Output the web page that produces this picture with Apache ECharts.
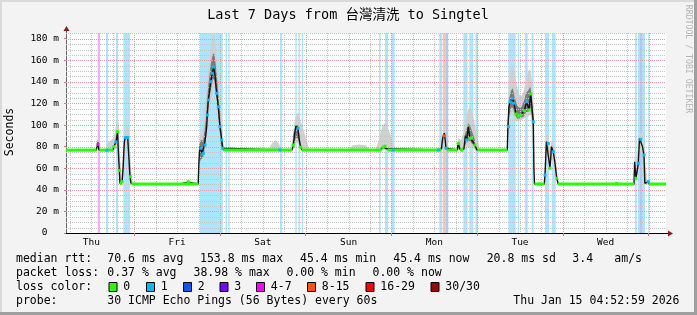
<!DOCTYPE html>
<html><head><meta charset="utf-8">
<script src="https://cdn.jsdelivr.net/npm/echarts@6/dist/echarts.min.js"></script>
<style>html,body{margin:0;padding:0;background:#f3f3f3}#c{width:697px;height:315px}</style>
</head><body><div id="c"></div>
<script>
// ---- axis / tick data (hours since Thu 00:00) ----
const timeRange = [4.883, 172.883];
const dayLabels = ['Thu','Fri','Sat','Sun','Mon','Tue','Wed'];
const dayNoons = [12,36,60,84,108,132,156];
const midnights = [24,48,72,96,120,144,168];
const minorVGrid = [6,12,18,30,36,42,54,60,66,78,84,90,102,108,114,126,132,138,150,156,162];
const yMax = 185.3;
const yTicks = [0,20,40,60,80,100,120,140,160,180];
const yMinor = [5,10,15,25,30,35,45,50,55,65,70,75,85,90,95,105,110,115,125,130,135,145,150,155,165,170,175,185];

// ---- loss colours ----
const lossLabels = ['0','1','2','3','4-7','8-15','16-29','30/30'];
const lossColors = ['#26ff00','#00b8ff','#0059ff','#7e00ff','#ff00ff','#ff5500','#ff0000','#a10000'];
const bandColors = ['#ffffff','#aae7ff','#aacaff','#d4aaff','#ffaaff','#ffc6aa','#ffaaaa','#e0aaaa'];

// ---- loss background bands: [startHour, endHour, lossLevel] ----
const lossBands = [
 [13.76,14.40,4],[16.08,16.64,1],[18.88,19.44,1],[20.93,22.80,1],
 [42.40,48.76,1],[49.54,49.96,1],[50.33,50.72,1],
 [64.80,65.44,1],[69.09,69.48,1],[69.98,70.40,1],[70.88,71.30,1],
 [92.52,92.97,1],[94.20,95.04,1],[96.00,96.90,1],
 [109.38,110.16,1],[110.36,111.28,5],[111.28,111.92,2],
 [116.13,117.30,1],[117.81,118.93,1],[119.54,120.19,1],
 [128.73,130.80,1],[131.36,131.78,1],[133.35,134.19,1],[135.26,135.82,1],
 [139.00,140.20,1],[140.88,142.00,1],
 [164.20,164.68,1],[164.98,165.60,1],[165.60,166.36,2],[166.36,167.00,1],[167.93,168.21,1]
];

// ---- median rtt (ms): [hour, value] ----
const median = [
 [4.88,76.8],[13.3,76.8],[13.6,80],[13.84,84],[14.1,77],[14.4,76.8],
 [18.0,76.8],[18.3,80],[18.88,84.3],[19.3,93.9],[19.55,75],[19.81,58],[20.0,46],[20.6,47],
 [20.9,62],[21.2,84],[21.49,88.5],[21.9,89.5],[22.16,88.5],[22.45,72],[22.8,52],[23.1,46],[23.4,45.4],
 [36.8,45.4],[37.5,46],[39.12,47],[39.5,45.4],[41.9,45.4],
 [42.1,66],[42.35,80],[42.6,78.5],[43.0,74],[43.33,73.8],[43.61,81.5],[44.0,90],[44.28,98.5],[44.45,109.3],
 [44.73,123.2],[45.1,132],[45.4,140.2],[45.85,148],[46.24,153.8],[46.6,146],[47.08,129.4],[47.53,117],
 [48.0,98.5],[48.48,86.2],[48.76,78.5],[49.0,76.9],
 [64.8,76.9],[68.16,77],[68.53,81.5],[68.9,92],[69.28,99],[69.6,100],[69.84,97],[70.12,88],[70.6,79.4],[71.0,77],[71.24,76.9],
 [90.0,76.9],[92.8,76.9],[93.3,78],[93.64,79.5],[94.2,80.5],[94.68,78],[95.0,76.9],
 [109.13,76.9],[110.0,78],[110.36,88],[110.81,92.5],[111.1,85],[111.28,78.5],[111.6,76.9],
 [114.45,77],[114.73,84],[115.1,78],[115.68,77],[116.3,78],[116.7,90],[117.08,86.2],[117.5,98],[118.0,88],
 [118.2,87.7],[118.7,85],[119.4,81.5],[119.9,77],[120.33,76.9],
 [128.45,76.9],[128.6,97],[128.73,98.5],[128.9,117],[129.2,121.6],[129.85,124.8],[130.32,120.2],[130.88,110.2],
 [131.52,108.4],[132.2,109.3],[132.76,110.9],[133.2,113.3],[133.88,121.6],[134.52,114],[134.99,128.8],
 [135.4,115],[135.72,103],[135.9,60],[136.06,45.4],
 [138.8,45.4],[139.0,53.7],[139.4,84.6],[139.93,83],[140.4,60],[140.82,80],[141.32,75.3],[141.8,65],[142.28,50.7],[142.72,45.4],
 [163.92,45.4],[164.1,66],[164.48,50.7],[165.13,64.6],[165.46,87.7],[165.8,86.8],[166.3,80],[166.72,72.3],
 [166.95,46],[167.93,47.5],[168.2,45.4],[172.88,45.4]
];

// ---- flat zero-loss median runs: [startHour, value, endHour] ----
const greenRuns = [
 [4.88,76.8,13.45],[14.25,76.8,18.1],[20.0,46,20.5],[23.2,45.4,41.95],[48.85,76.9,68.2],
 [70.9,76.9,93.3],[94.9,76.9,110.0],[111.5,76.9,114.45],[115.4,77,116.1],[120.1,76.9,128.45],
 [136.06,45.4,138.85],[142.6,45.4,163.95],[168.1,45.4,172.88]
];

// ---- median points coloured by loss: [hour, value, lossLevel] ----
const lossDots = [
 [13.84,82,4],[16.36,76.8,1],[18.3,80,0],[18.88,84.3,1],[19.3,93.9,0],[19.81,58,0],[20.6,47.5,0],
 [21.49,88.5,1],[22.16,88.5,1],[22.9,52,0],[39.12,47.5,0],
 [42.6,78.5,1],[43.33,73.8,1],[43.8,81.5,1],[44.45,109.3,1],[44.73,123.2,1],[45.4,140.2,1],[45.85,148,1],
 [46.24,153.8,1],[47.08,129.4,1],[47.53,117,1],[48.0,98.5,1],[48.48,86.2,1],[48.76,78.5,1],
 [64.8,76.9,1],[68.53,81.5,0],[69.84,97,1],[70.6,79.4,0],
 [93.64,79.5,0],[94.2,80.5,0],[96.5,76.9,1],
 [109.13,76.9,1],[110.81,90,5],[111.28,78.5,1],
 [114.73,83,0],[115.68,77,0],[117.08,86.2,1],[118.0,87.7,0],[118.4,88,0],[119.4,81.5,0],
 [128.73,98.5,1],[129.2,121.6,1],[129.85,124.8,1],[130.32,120.2,1],[130.88,110.2,0],[131.52,108.4,0],
 [132.2,109.3,0],[133.2,113.3,0],[133.88,121.6,1],[134.52,114,0],[134.99,128.8,0],[135.72,103,1],
 [137.4,45.4,0],[139.0,53.7,1],[139.93,83,1],[140.4,60,0],[141.32,75.3,1],[142.28,50.7,0],
 [159.08,46,0],[164.48,50.7,0],[165.13,64.6,1],[165.8,86.8,1],[166.72,72.3,1],[167.93,47.5,1]
];

// ---- smoke (ping spread): regions of [hour, low, high] ----
const smokeOuter = [
 [[13.3,76,77],[13.6,76,86],[13.9,76,88],[14.2,76,80],[14.5,76,77]],
 [[16.0,76,77],[16.5,76,84],[17.5,76,86],[18.2,76,88],[18.9,78,100],[19.3,80,106],[19.7,56,100],[20.0,45,70],
  [20.5,45,52],[21.0,55,85],[21.5,80,97],[22.0,84,100],[22.4,70,96],[22.8,50,80],[23.2,45,55],[23.6,45,46]],
 [[41.9,45,46],[42.1,60,75],[42.4,66,90],[43.3,70,98],[44.0,80,125],[44.7,100,150],[45.4,120,172],[46.0,135,183],
  [46.4,138,184],[46.8,130,172],[47.3,115,155],[47.8,96,130],[48.3,82,104],[48.8,76,86],[49.3,76,78]],
 [[61.5,76,77],[62.5,76,83],[63.5,76,86],[64.5,76,83],[65.2,76,77]],
 [[67.5,76,77],[68.2,76,84],[68.6,78,96],[69.0,80,105],[69.5,84,110],[70.0,82,112],[70.5,78,104],[71.2,76,98],
  [72.0,76,88],[72.8,76,80],[73.3,76,77]],
 [[84.0,76,77],[85.0,76,81],[87.0,76,82],[89.0,76,81],[90.0,76,77]],
 [[91.5,76,77],[92.3,76,84],[93.0,76,94],[93.8,77,101],[94.5,77,102],[95.2,76,96],[96.0,76,88],[96.8,76,80],[97.3,76,77]],
 [[109.5,76,77],[110.2,77,90],[110.8,78,96],[111.3,77,88],[111.8,76,77]],
 [[114.2,76,77],[114.7,77,88],[115.5,76,86],[116.3,77,95],[117.0,78,108],[117.6,80,115],[118.2,80,117],
  [118.8,79,110],[119.4,77,100],[120.1,76,86],[120.8,76,78]],
 [[128.45,76,80],[128.6,80,100],[128.9,98,140],[129.3,110,152],[129.9,112,155],[130.5,105,148],[131.2,103,135],
  [131.8,104,128],[132.5,105,127],[133.1,106,132],[133.7,108,143],[134.3,108,150],[134.9,110,152],[135.4,100,140],
  [135.8,70,110],[136.1,45,50]],
 [[138.8,45,46],[139.0,50,60],[139.4,70,91],[139.9,72,90],[140.4,56,78],[140.8,68,85],[141.3,66,84],[141.8,55,76],
  [142.3,48,60],[142.7,45,46]],
 [[163.9,45,46],[164.1,55,70],[164.5,48,66],[165.1,58,80],[165.5,75,92],[165.9,76,94],[166.4,70,88],[166.8,60,80],
  [167.1,45,65],[167.5,45,50],[168.0,45,48]]
];
const smokeInner = [
 [[42.2,64,82],[42.6,68,86],[43.3,70,86],[44.0,86,104],[44.7,116,136],[45.4,132,156],[46.0,143,166],[46.4,142,166],
  [46.8,132,156],[47.3,118,138],[47.8,98,118],[48.3,82,97],[48.8,76,82]],
 [[68.6,80,92],[69.2,88,100],[69.8,88,100],[70.4,79,88]],
 [[116.5,80,90],[117.0,84,96],[117.6,86,102],[118.2,84,98],[118.8,82,92],[119.4,79,86]],
 [[128.6,88,104],[129.0,108,125],[129.5,116,132],[130.0,116,134],[130.5,110,126],[131.2,106,118],[131.8,106,116],
  [132.5,107,117],[133.1,108,122],[133.7,112,130],[134.3,112,132],[134.9,116,136],[135.4,106,124],[135.8,90,106]]
];

// ---- texts ----
const titleText = 'Last 7 Days from 台灣清洗 to Singtel';
const yAxisTitle = 'Seconds';
const watermark = 'RRDTOOL / TOBI OETIKER';
const legendRows = [
 [['median rtt:',16],['70.6 ms avg',107.3],['153.8 ms max',200],['45.4 ms min',300],['45.4 ms now',393.3],['20.8 ms sd',486.7],['3.4',572.3],['am/s',614.3]],
 [['packet loss:',16],['0.37 % avg',107.3],['38.98 % max',193.5],['0.00 % min',286.4],['0.00 % now',372.5]],
 [['loss color:',16]],
 [['probe:',16],['30 ICMP Echo Pings (56 Bytes) every 60s',107.3],['Thu Jan 15 04:52:59 2026',513.3]]
];
const legendRowY = [259.5,273.5,287,301];
const lossBoxX = [108.5,146,183,219.5,256,307,365.5,430.5];

const MONO = '"DejaVu Sans Mono", monospace';
const minorC = '#c4c4c4', majorC = '#e79a9a';

const graphic = [];
graphic.push({type:'rect', shape:{x:0,y:0,width:697,height:2}, style:{fill:'#dadada'}, z:100});
graphic.push({type:'rect', shape:{x:0,y:0,width:2,height:315}, style:{fill:'#dadada'}, z:100});
graphic.push({type:'rect', shape:{x:694,y:0,width:3,height:315}, style:{fill:'#9f9f9f'}, z:100});
graphic.push({type:'rect', shape:{x:0,y:312,width:697,height:3}, style:{fill:'#9f9f9f'}, z:100});
graphic.push({type:'text', x:348, y:15, style:{text:titleText, fill:'#000', font:'13.5px "DejaVu Sans Mono", "Noto Sans CJK TC", monospace', align:'center', verticalAlign:'middle'}});
graphic.push({type:'text', x:10, y:132, rotation:Math.PI/2, style:{text:yAxisTitle, fill:'#000', font:'11.5px '+MONO, align:'center', verticalAlign:'middle'}});
graphic.push({type:'text', x:688, y:59, rotation:-Math.PI/2, style:{text:watermark, fill:'#b4b4b4', font:'8.2px '+MONO, align:'center', verticalAlign:'middle'}});
legendRows.forEach((row, r) => row.forEach(([t, x]) => {
  graphic.push({type:'text', x:x, y:legendRowY[r], style:{text:t, fill:'#000', font:'11.5px '+MONO, align:'left', verticalAlign:'middle'}});
}));
lossLabels.forEach((lab, i) => {
  graphic.push({type:'rect', shape:{x:lossBoxX[i]+0.5, y:282.5, width:8, height:9}, style:{fill:lossColors[i], stroke:'#000', lineWidth:1}});
  graphic.push({type:'text', x:lossBoxX[i]+14.8, y:legendRowY[2], style:{text:lab, fill:'#000', font:'11.5px '+MONO, align:'left', verticalAlign:'middle'}});
});

const vGrid = minorVGrid.map(h => [h, 0, 0]).concat(midnights.map(h => [h, 0, 1]));
const hGrid = yMinor.map(v => [timeRange[0], v, 0]).concat(yTicks.filter(v => v > 0).map(v => [timeRange[0], v, 1]));

function smokeSeries(regions, color, z) {
  return {
    type:'custom', silent:true, z:z, clip:true,
    data: regions.map((r, i) => [r[0][0], r[0][1], i]),
    renderItem(params, api) {
      const r = regions[api.value(2)];
      const pts = [];
      r.forEach(p => pts.push(api.coord([p[0], p[2]])));
      for (let k = r.length - 1; k >= 0; k--) pts.push(api.coord([r[k][0], r[k][1]]));
      return {type:'polygon', shape:{points:pts}, style:{fill:color}};
    }
  };
}

const option = {
  animation:false,
  backgroundColor:'#f3f3f3',
  grid:{left:66, top:33, width:600, height:200, show:true, backgroundColor:'#ffffff', borderWidth:0, outerBoundsMode:'none'},
  xAxis:{
    type:'value', min:timeRange[0], max:timeRange[1],
    axisLine:{show:true, onZero:false, lineStyle:{color:'#000', width:1}},
    axisTick:{show:true, customValues:midnights, length:3, lineStyle:{color:'#e07070'}},
    axisLabel:{show:true, customValues:dayNoons, formatter:v => dayLabels[dayNoons.indexOf(v)], fontFamily:MONO, fontSize:9.5, color:'#000', margin:5},
    splitLine:{show:false}
  },
  yAxis:{
    type:'value', min:0, max:yMax,
    axisLine:{show:true, onZero:false, lineStyle:{color:'#6a6a6a', width:1}},
    axisTick:{show:true, customValues:yTicks, length:2, lineStyle:{color:'#e07070'}},
    axisLabel:{show:true, customValues:yTicks, formatter:v => v === 0 ? '0  ' : v + ' m', fontFamily:MONO, fontSize:9.5, color:'#000', margin:7},
    splitLine:{show:false}
  },
  series:[
    { type:'custom', silent:true, z:1,
      data: lossBands.map(b => [b[0], 0, b[1], b[2]]),
      renderItem(params, api) {
        const cs = params.coordSys;
        const x0 = api.coord([api.value(0), 0])[0], x1 = api.coord([api.value(2), 0])[0];
        return {type:'rect', shape:{x:x0, y:cs.y, width:Math.max(1, x1 - x0), height:cs.height}, style:{fill:bandColors[api.value(3)]}};
      }
    },
    smokeSeries(smokeOuter, '#d0d0d0', 2),
    smokeSeries(smokeInner, '#7a7a7a', 3),
    { type:'custom', silent:true, z:4, data:vGrid,
      renderItem(params, api) {
        const cs = params.coordSys;
        const x = Math.round(api.coord([api.value(0), 0])[0]) + 0.5;
        return {type:'line', shape:{x1:x, y1:cs.y, x2:x, y2:cs.y + cs.height}, style:{stroke:api.value(2) ? majorC : minorC, lineWidth:1, lineDash:[1,1]}};
      }
    },
    { type:'custom', silent:true, z:4, data:hGrid,
      renderItem(params, api) {
        const cs = params.coordSys;
        const y = Math.round(api.coord([api.value(0), api.value(1)])[1]) + 0.5;
        return {type:'line', shape:{x1:cs.x, y1:y, x2:cs.x + cs.width, y2:y}, style:{stroke:api.value(2) ? majorC : minorC, lineWidth:1, lineDash:[1,1]}};
      }
    },
    { type:'line', data:median, showSymbol:false, symbol:'none', z:5, silent:true,
      lineStyle:{color:'#141414', width:1.4} },
    { type:'custom', silent:true, z:6, data:greenRuns,
      renderItem(params, api) {
        const p0 = api.coord([api.value(0), api.value(1)]), p1 = api.coord([api.value(2), api.value(1)]);
        return {type:'line', shape:{x1:p0[0], y1:p0[1], x2:p1[0], y2:p1[1]}, style:{stroke:lossColors[0], lineWidth:3}};
      }
    },
    { type:'scatter', data:lossDots, symbol:'rect', symbolSize:3, z:7, silent:true,
      itemStyle:{color:p => lossColors[p.data[2]], opacity:1} },
    { type:'custom', silent:true, z:8, data:[[timeRange[0], 0]],
      renderItem(params, api) {
        const cs = params.coordSys;
        const ax = Math.round(cs.x) + 0.5, by = Math.round(cs.y + cs.height) + 0.5, rx = cs.x + cs.width;
        return {type:'group', children:[
          {type:'line', shape:{x1:ax, y1:cs.y, x2:ax, y2:cs.y - 2}, style:{stroke:'#6a6a6a', lineWidth:1}},
          {type:'polygon', shape:{points:[[ax - 3, cs.y - 2], [ax + 3, cs.y - 2], [ax, cs.y - 7]]}, style:{fill:'#8b1c1c'}},
          {type:'line', shape:{x1:rx, y1:by, x2:rx + 2, y2:by}, style:{stroke:'#000', lineWidth:1}},
          {type:'polygon', shape:{points:[[rx + 2, by - 3], [rx + 2, by + 3], [rx + 7, by]]}, style:{fill:'#8b1c1c'}}
        ]};
      }
    }
  ],
  graphic: graphic
};
const chart = echarts.init(document.getElementById('c'), null, {renderer:'canvas'});
chart.setOption(option);
</script></body></html>
